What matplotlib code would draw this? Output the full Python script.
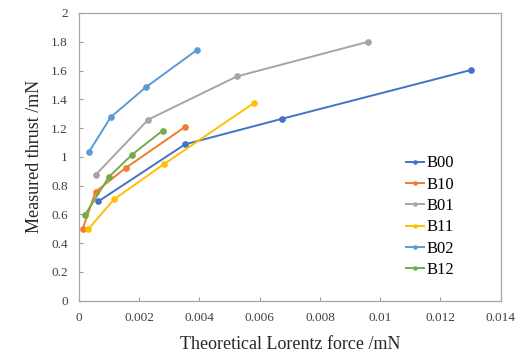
import matplotlib
matplotlib.use("Agg")
import matplotlib.pyplot as plt

plt.rcParams['font.family'] = ['Liberation Serif', 'DejaVu Serif']

names = ['B00', 'B10', 'B01', 'B11', 'B02', 'B12']
colors = ['#4472C4', '#ED7D31', '#A5A5A5', '#FFC000', '#5B9BD5', '#70AD47']

x_b00 = [0.00064, 0.00352, 0.00673, 0.0130]
y_b00 = [0.690, 1.087, 1.264, 1.603]
x_b10 = [0.00012, 0.00055, 0.00155, 0.00352]
y_b10 = [0.498, 0.757, 0.923, 1.208]
x_b01 = [0.00055, 0.00230, 0.00524, 0.00960]
y_b01 = [0.874, 1.259, 1.559, 1.800]
x_b11 = [0.00031, 0.00116, 0.00281, 0.00582]
y_b11 = [0.498, 0.704, 0.948, 1.376]
x_b02 = [0.00033, 0.00105, 0.00222, 0.00393]
y_b02 = [1.034, 1.275, 1.484, 1.745]
x_b12 = [0.00020, 0.00100, 0.00175, 0.00278]
y_b12 = [0.597, 0.862, 1.013, 1.183]

xs = [x_b00, x_b10, x_b01, x_b11, x_b02, x_b12]
ys = [y_b00, y_b10, y_b01, y_b11, y_b02, y_b12]

xticks = [0, 0.002, 0.004, 0.006, 0.008, 0.01, 0.012, 0.014]
xlabels = ['0', '0.002', '0.004', '0.006', '0.008', '0.01', '0.012', '0.014']
yticks = [0, 0.2, 0.4, 0.6, 0.8, 1, 1.2, 1.4, 1.6, 1.8, 2]
ylabels = ['0', '0.2', '0.4', '0.6', '0.8', '1', '1.2', '1.4', '1.6', '1.8', '2']

fig = plt.figure(figsize=[5.21, 3.56], dpi=100)
ax = fig.add_axes([0.1516, 0.1553, 0.8094, 0.8082])

for name, c, x, y in zip(names, colors, xs, ys):
    ax.plot(x, y, color=c, lw=1.4, marker='o', ms=3.8, label=name)

ax.set_xlim(0, 0.014)
ax.set_ylim(0, 2)
ax.set_xticks(xticks)
ax.set_xticklabels(xlabels)
ax.set_yticks(yticks)
ax.set_yticklabels(ylabels)
ax.tick_params(direction='in', length=3, width=0.8, color='#A0A0A0',
               labelsize=9.5, labelcolor='#404040', pad=8)
for s in ax.spines.values():
    s.set_color('#A6A6A6')
    s.set_linewidth(0.9)

ax.set_xlabel('Theoretical Lorentz force /mN', fontsize=13, color='#262626', labelpad=9)
ax.set_ylabel('Measured thrust /mN', fontsize=13, color='#262626', labelpad=6)

ax.legend(loc='upper left', bbox_to_anchor=(0.775, 0.505), frameon=False,
          fontsize=12, handlelength=1.1, handletextpad=0.15, labelspacing=0.32,
          markerscale=0.6, borderpad=0, borderaxespad=0)

fig.savefig('out.png', dpi=100)
plt.close(fig)
